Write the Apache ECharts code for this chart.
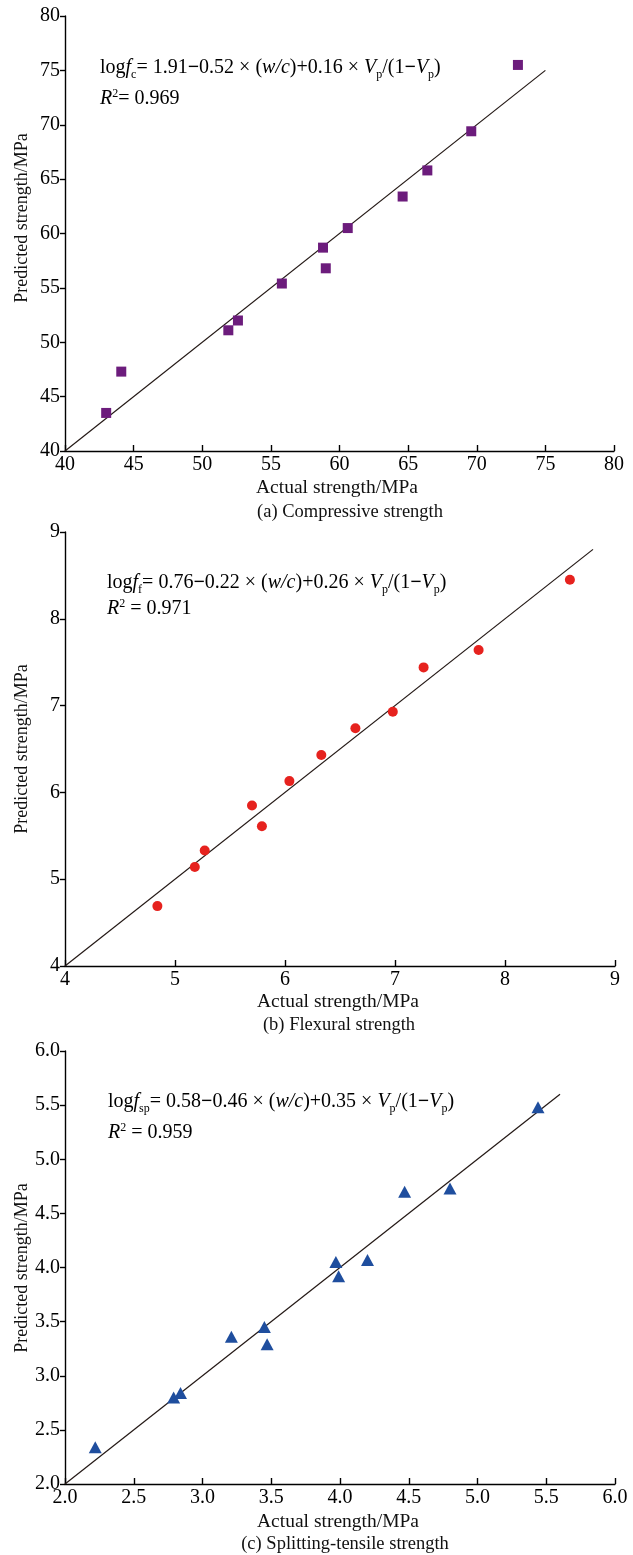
<!DOCTYPE html>
<html>
<head>
<meta charset="utf-8">
<script src="https://cdn.jsdelivr.net/npm/echarts@6/dist/echarts.min.js"></script>
<style>
  html, body { margin: 0; padding: 0; background: #fff; }
  #chart { width: 633px; height: 1555px; }
</style>
</head>
<body>
<div id="chart"></div>
<script>
// (a) compressive strength, MPa
const compActual = [43.0, 44.1, 51.9, 52.6, 55.8, 58.8, 59.0, 60.6, 64.6, 66.4, 69.6, 73.0];
const compPred   = [43.5, 47.3, 51.1, 52.0, 55.4, 58.7, 56.8, 60.5, 63.4, 65.8, 69.4, 75.5];
const compLine   = [40, 75];

// (b) flexural strength, MPa
const flexActual = [4.84, 5.18, 5.27, 5.70, 5.79, 6.04, 6.33, 6.64, 6.98, 7.26, 7.76, 8.59];
const flexPred   = [4.69, 5.14, 5.33, 5.85, 5.61, 6.13, 6.43, 6.74, 6.93, 7.44, 7.64, 8.45];
const flexLine   = [4, 8.8];

// (c) splitting-tensile strength, MPa
const splitActual = [2.22, 2.79, 2.84, 3.21, 3.45, 3.47, 3.97, 3.99, 4.20, 4.47, 4.80, 5.44];
const splitPred   = [2.34, 2.80, 2.84, 3.36, 3.45, 3.29, 4.05, 3.92, 4.07, 4.70, 4.73, 5.48];
const splitLine   = [2, 5.6];

// axis ranges: [min, max, step, decimals]
const compRange  = [40, 80, 5, 0];
const flexRange  = [4, 9, 1, 0];
const splitRange = [2, 6, 0.5, 1];

const FONT = '"Liberation Serif", "Times New Roman", serif';
const INK = '#111';

const grids = [
  { left: 65, top: 16,   width: 549, height: 435 },
  { left: 65, top: 532,  width: 550, height: 434 },
  { left: 65, top: 1051, width: 550, height: 433 }
];

function xAxisOf(gi, r) {
  return {
    type: 'value', gridIndex: gi, min: r[0], max: r[1], interval: r[2],
    axisLine: { show: true, onZero: false, lineStyle: { color: '#000', width: 1.4 } },
    axisTick: { show: true, inside: true, length: 6, lineStyle: { color: '#000', width: 1.4 } },
    axisLabel: { color: '#000', fontFamily: FONT, fontSize: 20, margin: 4,
                 formatter: v => v.toFixed(r[3]) },
    splitLine: { show: false }
  };
}
function yAxisOf(gi, r) {
  return {
    type: 'value', gridIndex: gi, min: r[0], max: r[1], interval: r[2],
    axisLine: { show: true, onZero: false, lineStyle: { color: '#000', width: 1.4 } },
    axisTick: { show: true, inside: false, length: 5, lineStyle: { color: '#000', width: 1.4 } },
    axisLabel: { color: '#000', fontFamily: FONT, fontSize: 20, margin: 5,
                 formatter: v => v.toFixed(r[3]) },
    splitLine: { show: false }
  };
}

function pairs(xs, ys) { return xs.map((x, i) => [x, ys[i]]); }

function fitSeries(gi, ends) {
  return {
    type: 'line', xAxisIndex: gi, yAxisIndex: gi, symbol: 'none', silent: true, z: 2,
    data: ends.map(v => [v, v]),
    lineStyle: { color: '#231815', width: 1.2 }
  };
}
function pointSeries(gi, xs, ys, symbol, size, color) {
  return {
    type: 'scatter', xAxisIndex: gi, yAxisIndex: gi, z: 3,
    symbol: symbol, symbolSize: size,
    itemStyle: { color: color, opacity: 1 },
    data: pairs(xs, ys)
  };
}

const rich = {
  n:   { fontFamily: FONT, fontSize: 20, color: INK, lineHeight: 28 },
  i:   { fontFamily: FONT, fontSize: 20, color: INK, fontStyle: 'italic', lineHeight: 28 },
  m:   { fontFamily: FONT, fontSize: 20, color: INK, fontWeight: 'bold', lineHeight: 28 },
  s:   { fontFamily: FONT, fontSize: 12, color: INK, lineHeight: 12, padding: [14, 0, 0, 0] },
  sup: { fontFamily: FONT, fontSize: 12, color: INK, lineHeight: 12, padding: [0, 0, 11, 0] }
};

function richText(x, y, text) {
  return { type: 'text', x: x, y: y, z: 10,
           style: { text: text, rich: rich, verticalAlign: 'middle', align: 'left' } };
}
function plainText(x, y, text, size, rotate) {
  return { type: 'text', x: x, y: y, rotation: rotate ? Math.PI / 2 : 0, z: 10,
           style: { text: text, fontFamily: FONT, fontSize: size, fill: INK,
                    align: 'center', verticalAlign: 'middle' } };
}

const graphic = [
  richText(100, 68, '{n|log}{i|f}{s|c}{n|= 1.91}{m|−}{n|0.52 × (}{i|w/c}{n|)+0.16 × }{i|V}{s|p}{n|/(1}{m|−}{i|V}{s|p}{n|)}'),
  richText(100, 99, '{i|R}{sup|2}{n|= 0.969}'),
  richText(107, 583, '{n|log}{i|f}{s|f}{n|= 0.76}{m|−}{n|0.22 × (}{i|w/c}{n|)+0.26 × }{i|V}{s|p}{n|/(1}{m|−}{i|V}{s|p}{n|)}'),
  richText(107, 609, '{i|R}{sup|2}{n| = 0.971}'),
  richText(108, 1102, '{n|log}{i|f}{s|sp}{n|= 0.58}{m|−}{n|0.46 × (}{i|w/c}{n|)+0.35 × }{i|V}{s|p}{n|/(1}{m|−}{i|V}{s|p}{n|)}'),
  richText(108, 1133, '{i|R}{sup|2}{n| = 0.959}'),

  plainText(22, 218, 'Predicted strength/MPa', 18, true),
  plainText(22, 749, 'Predicted strength/MPa', 18, true),
  plainText(22, 1268, 'Predicted strength/MPa', 18, true),

  plainText(337, 488, 'Actual strength/MPa', 19.5),
  plainText(350, 512, '(a) Compressive strength', 18.5),
  plainText(338, 1002, 'Actual strength/MPa', 19.5),
  plainText(339, 1025, '(b) Flexural strength', 18.5),
  plainText(338, 1522, 'Actual strength/MPa', 19.5),
  plainText(345, 1544, '(c) Splitting-tensile strength', 18.5)
];

const chart = echarts.init(document.getElementById('chart'), null, { renderer: 'canvas' });
chart.setOption({
  backgroundColor: '#fff',
  animation: false,
  grid: grids,
  xAxis: [xAxisOf(0, compRange), xAxisOf(1, flexRange), xAxisOf(2, splitRange)],
  yAxis: [yAxisOf(0, compRange), yAxisOf(1, flexRange), yAxisOf(2, splitRange)],
  series: [
    fitSeries(0, compLine),
    pointSeries(0, compActual, compPred, 'rect', 10, '#6c1c7c'),
    fitSeries(1, flexLine),
    pointSeries(1, flexActual, flexPred, 'circle', 10, '#e6221e'),
    fitSeries(2, splitLine),
    pointSeries(2, splitActual, splitPred, 'triangle', [13, 12], '#1f4e9e')
  ],
  graphic: graphic
});
</script>
</body>
</html>
